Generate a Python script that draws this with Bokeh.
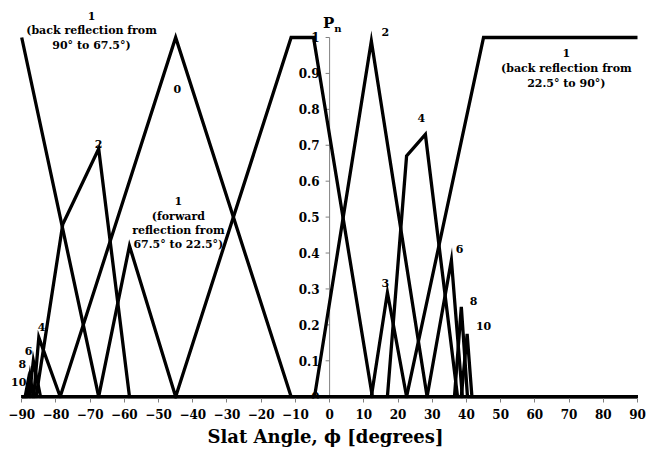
from bokeh.plotting import figure
from bokeh.models import Range1d, FixedTicker, ColumnDataSource
from bokeh.embed import file_html
from bokeh.resources import INLINE
from bokeh.core.properties import value
import math

# ---------------- data ----------------
phi_n0 = [-90, -78.75, -45, -11.25, 90]
p_n0 = [0, 0, 1, 0, 0]

phi_n1_back = [-90, -67.5, 22.5, 45, 90]
p_n1_back = [1, 0, 0, 1, 1]

phi_n1_fwd = [-90, -67.5, -58.5, -45, -11.25, -4.7, 12.5, 90]
p_n1_fwd = [0, 0, 0.42, 0, 1, 1, 0, 0]

phi_n2 = [-90, -85.8, -78, -67.5, -58.5, -4.4, 12.2, 28.5, 90]
p_n2 = [0, 0, 0.48, 0.69, 0, 0, 0.99, 0, 0]

phi_n3 = [-90, 12.2, 16.9, 22.5, 90]
p_n3 = [0, 0, 0.29, 0, 0]

phi_n4 = [-90, -86.5, -85, -78.75, 16.9, 22.5, 28, 37.4, 90]
p_n4 = [0, 0, 0.165, 0, 0, 0.67, 0.73, 0, 0]

phi_n6 = [-90, -87.8, -86.6, -84.5, 28.5, 35.6, 38.8, 90]
p_n6 = [0, 0, 0.10, 0, 0, 0.38, 0, 0]

phi_n8 = [-90, -88.6, -87.6, -86.6, 36.5, 38.5, 40.3, 90]
p_n8 = [0, 0, 0.06, 0, 0, 0.25, 0, 0]

phi_n10 = [-90, -89, -88.1, -87.4, 38.5, 40.2, 41.6, 90]
p_n10 = [0, 0, 0.045, 0, 0, 0.175, 0, 0]

x_ticks = list(range(-90, 91, 10))
y_ticks = [0, 0.1, 0.2, 0.3, 0.4, 0.5, 0.6, 0.7, 0.8, 0.9, 1.0]
y_tick_labels = ["0", "0.1", "0.2", "0.3", "0.4", "0.5", "0.6", "0.7", "0.8", "0.9", "1"]

x_title = "Slat Angle, \u03d5 [degrees]"
y_title = "P"
y_title_sub = "n"

# curve annotations: text, phi, P
notes_text = ["1", "(back reflection from", "90\u00b0 to 67.5\u00b0)",
              "0", "2",
              "1", "(forward", "reflection from", "67.5\u00b0 to 22.5\u00b0)",
              "1", "(back reflection from", "22.5\u00b0 to 90\u00b0)",
              "2", "4", "3", "6", "8", "10",
              "4", "6", "8", "10"]
notes_phi = [-69.6, -69.6, -69.6,
             -44.5, -67.5,
             -44.2, -44.2, -44.2, -44.2,
             69.2, 69.2, 69.2,
             16.3, 26.8, 16.3, 38.0, 42.1, 45.0,
             -84.2, -88.0, -89.8, -90.9]
notes_p = [1.061, 1.020, 0.978,
           0.856, 0.703,
           0.545, 0.503, 0.464, 0.425,
           0.956, 0.914, 0.873,
           1.014, 0.775, 0.317, 0.411, 0.267, 0.198,
           0.195, 0.128, 0.092, 0.042]

FONT = value("DejaVu Serif")

p = figure(width=650, height=449,
           x_range=Range1d(-96.2, 93.8), y_range=Range1d(-0.005, 1.103),
           output_backend="svg", toolbar_location=None, y_axis_location=None,
           min_border_left=0, min_border_right=0, min_border_top=0, min_border_bottom=50)
p.outline_line_color = None
p.background_fill_color = "white"
p.border_fill_color = "white"
p.xgrid.visible = False
p.ygrid.visible = False

# x axis
ax = p.xaxis[0]
ax.ticker = FixedTicker(ticks=x_ticks)
ax.axis_line_color = None
ax.major_tick_in = 0
ax.major_tick_out = 4
ax.major_tick_line_color = "#808080"
ax.minor_tick_line_color = None
ax.major_label_standoff = 6
ax.major_label_text_font = "DejaVu Serif"
ax.major_label_text_font_style = "bold"
ax.major_label_text_font_size = "12px"
ax.major_label_text_color = "black"
ax.axis_label = x_title
ax.axis_label_text_font = "DejaVu Serif"
ax.axis_label_text_font_style = "bold"
ax.axis_label_text_font_size = "18px"
ax.axis_label_text_color = "black"
ax.axis_label_standoff = 4

# y axis drawn at phi = 0
p.segment(x0=[0], y0=[y_ticks[0]], x1=[0], y1=[y_ticks[-1]], line_color="#808080", line_width=1)
p.ray(x=[0] * len(y_ticks), y=y_ticks, length=4, length_units="screen", angle=math.pi,
      line_color="#808080", line_width=1)
p.text(x=[0] * len(y_ticks), y=y_ticks, text=y_tick_labels, x_offset=-10,
       text_align="right", text_baseline="middle", text_font=FONT,
       text_font_style="bold", text_font_size=value("12px"), text_color="black")
p.text(x=[-0.3], y=[1.040], text=[y_title], text_align="center", text_baseline="middle",
       text_font=FONT, text_font_style="bold", text_font_size=value("15px"), text_color="black")
p.text(x=[2.4], y=[1.025], text=[y_title_sub], text_align="center", text_baseline="middle",
       text_font=FONT, text_font_style="bold", text_font_size=value("10px"), text_color="black")

# curves
series = [(phi_n0, p_n0), (phi_n1_back, p_n1_back), (phi_n1_fwd, p_n1_fwd),
          (phi_n2, p_n2), (phi_n3, p_n3), (phi_n4, p_n4), (phi_n6, p_n6),
          (phi_n8, p_n8), (phi_n10, p_n10)]
for xs, ys in series:
    src = ColumnDataSource(data=dict(x=xs, y=ys))
    p.line("x", "y", source=src, line_color="black", line_width=3.3, line_join="miter")

# annotations
p.text(x=notes_phi, y=notes_p, text=notes_text, text_align="center", text_baseline="middle",
       text_font=FONT, text_font_style="bold", text_font_size=value("11px"), text_color="black")

open("out.html", "w").write(file_html(p, INLINE))
